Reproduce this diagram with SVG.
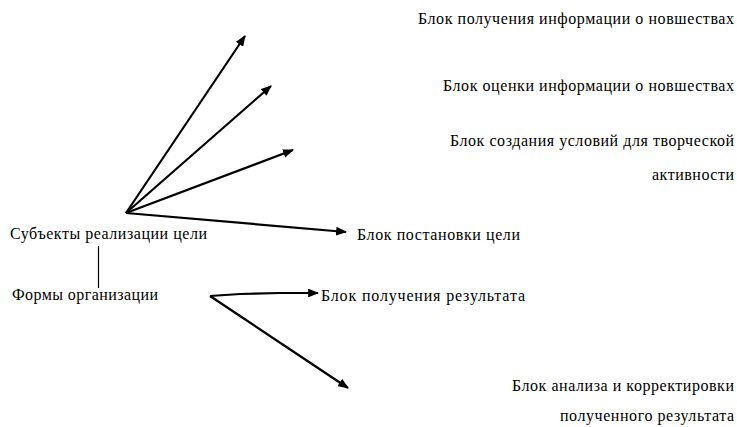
<svg xmlns="http://www.w3.org/2000/svg" width="737" height="427" viewBox="0 0 737 427">
  <style>
    .arrow { stroke: #000; stroke-width: 2.2; fill: none; marker-end: url(#head); }
    .link { stroke: #000; stroke-width: 1.2; fill: none; }
  </style>
  <defs>
    <marker id="head" viewBox="0 0 10 8" refX="9" refY="4" markerWidth="5" markerHeight="4" orient="auto" markerUnits="strokeWidth">
      <path d="M0,0 L10,4 L0,8 Z" fill="#000"/>
    </marker>
  </defs>
  <rect width="737" height="427" fill="#fff"/>

  <!-- connectors -->
  <g id="connectors">
    <line class="arrow" x1="126" y1="213" x2="245" y2="36"/>
    <line class="arrow" x1="126" y1="213" x2="271" y2="86"/>
    <line class="arrow" x1="126" y1="213" x2="293" y2="150"/>
    <line class="arrow" x1="126" y1="213" x2="346" y2="232"/>
    <line class="link" x1="98.5" y1="246" x2="98.5" y2="288"/>
    <polyline class="arrow" points="210,296 240,294 280,293 318,293"/>
    <line class="arrow" x1="210" y1="296" x2="348" y2="388"/>
  </g>

  <!-- nodes -->
  <g id="subjects">
    <text x="10" y="239" font-family="Liberation Serif" font-size="16" textLength="197" lengthAdjust="spacing">Субъекты реализации цели</text>
  </g>
  <g id="forms">
    <text x="12" y="300" font-family="Liberation Serif" font-size="16" textLength="146" lengthAdjust="spacing">Формы организации</text>
  </g>
  <g id="info-receive">
    <text x="418" y="24" font-family="Liberation Serif" font-size="16" textLength="316" lengthAdjust="spacing">Блок получения информации о новшествах</text>
  </g>
  <g id="info-evaluate">
    <text x="443" y="91" font-family="Liberation Serif" font-size="16" textLength="291" lengthAdjust="spacing">Блок оценки информации о новшествах</text>
  </g>
  <g id="creative">
    <text x="450" y="146" font-family="Liberation Serif" font-size="16" textLength="284" lengthAdjust="spacing">Блок создания условий для творческой</text>
    <text x="652" y="180" font-family="Liberation Serif" font-size="16" textLength="82" lengthAdjust="spacing">активности</text>
  </g>
  <g id="goal-setting">
    <text x="357" y="240" font-family="Liberation Serif" font-size="16" textLength="163" lengthAdjust="spacing">Блок постановки цели</text>
  </g>
  <g id="result">
    <text x="321" y="301" font-family="Liberation Serif" font-size="16" textLength="204" lengthAdjust="spacing">Блок получения результата</text>
  </g>
  <g id="analysis">
    <text x="512" y="391" font-family="Liberation Serif" font-size="16" textLength="222" lengthAdjust="spacing">Блок анализа и корректировки</text>
    <text x="560" y="421" font-family="Liberation Serif" font-size="16" textLength="174" lengthAdjust="spacing">полученного результата</text>
  </g>
</svg>
